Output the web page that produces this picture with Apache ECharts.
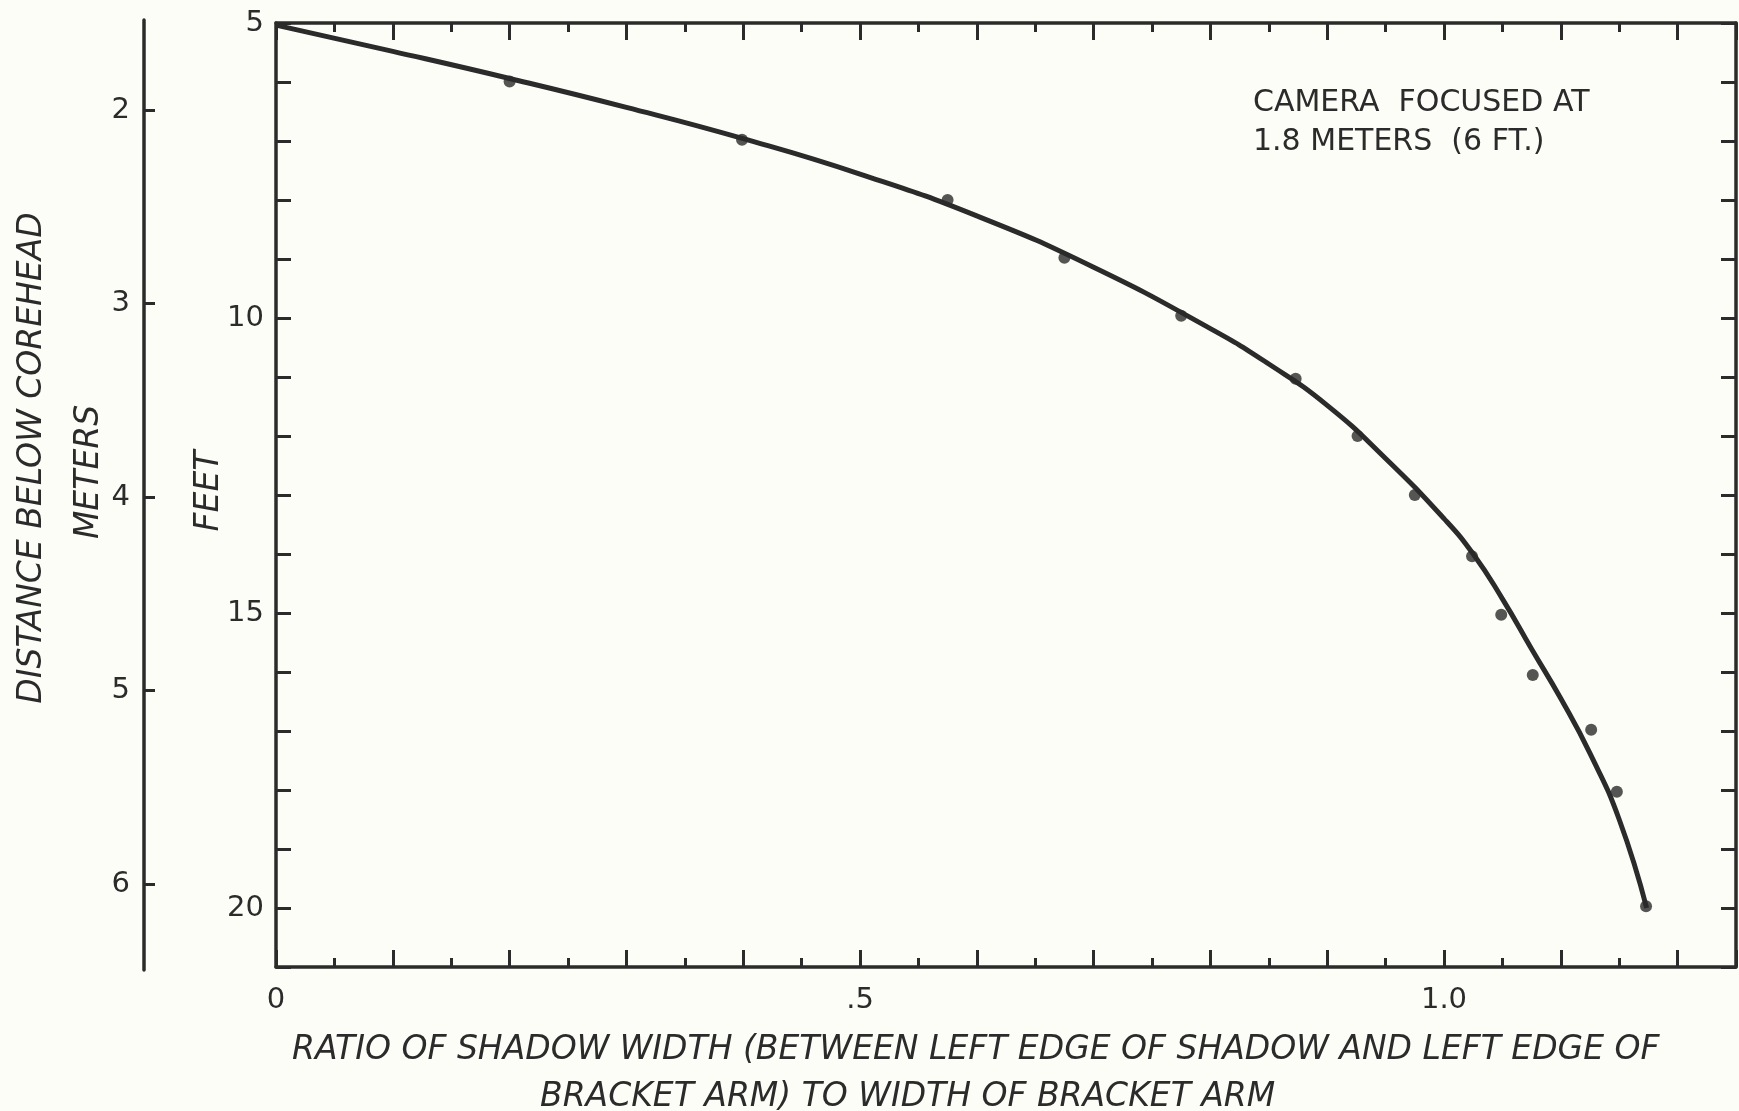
<!DOCTYPE html>
<html>
<head>
<meta charset="utf-8">
<script src="https://cdn.jsdelivr.net/npm/echarts@6.0.0/dist/echarts.min.js"></script>
<style>
  html, body { margin: 0; padding: 0; background: #fdfdf8; }
  #chart { width: 1739px; height: 1111px; }
</style>
</head>
<body>
<div id="chart"></div>
<script>
// ---- data ----
// measured points: ratio of shadow width vs distance below corehead (feet)
const pointRatio = [0.200, 0.399, 0.575, 0.675, 0.775, 0.873, 0.926, 0.975, 1.024, 1.049, 1.076, 1.126, 1.148, 1.173];
const pointFeet  = [5.99, 6.98, 8.00, 8.98, 9.96, 11.03, 12.00, 13.00, 14.04, 15.03, 16.05, 16.98, 18.03, 19.97];

// hand-drawn fitted curve, read along its path
const curveRatio = [0, 0.10, 0.20, 0.30, 0.40, 0.50, 0.60, 0.70, 0.80, 0.85, 0.90, 0.95, 1.00, 1.025, 1.05, 1.075, 1.10, 1.125, 1.15, 1.1735];
const curveFeet  = [5.035, 5.48, 5.94, 6.43, 6.96, 7.56, 8.27, 9.14, 10.18, 10.78, 11.48, 12.38, 13.40, 14.00, 14.76, 15.61, 16.45, 17.38, 18.50, 20.00];

// tick labels
const xTickValues = [0, 0.5, 1.0];
const xTickLabels = ['0', '.5', '1.0'];
const feetTickValues = [5, 10, 15, 20];
const feetTickLabels = ['5', '10', '15', '20'];
const meterTickValues = [2, 3, 4, 5, 6];
const meterTickLabels = ['2', '3', '4', '5', '6'];

// texts
const annotationLines = ['CAMERA  FOCUSED AT', '1.8 METERS  (6 FT.)'];
const xTitleLines = ['RATIO OF SHADOW WIDTH (BETWEEN LEFT EDGE OF SHADOW AND LEFT EDGE OF', 'BRACKET ARM) TO WIDTH OF BRACKET ARM'];
const yTitle = 'DISTANCE BELOW COREHEAD';
const meterTitle = 'METERS';
const feetTitle = 'FEET';

// ---- styling ----
const INK = '#2b2b2b';
const BG = '#fdfdf8';
const FONT = '"DejaVu Sans", sans-serif';

function lookup(values, labels) {
  return function (v) {
    for (let i = 0; i < values.length; i++) {
      if (Math.abs(values[i] - v) < 1e-6) return labels[i];
    }
    return '';
  };
}

const axisLineStyle = { color: INK, width: 3.5 };
const tickLineStyle = { color: INK, width: 3 };

function xAxisDef(position, showLabel) {
  return {
    gridIndex: 0, type: 'value', position: position,
    min: 0, max: 1.25, interval: 0.1,
    axisLine: { show: true, onZero: false, lineStyle: axisLineStyle },
    axisTick: { show: true, inside: true, length: 17, lineStyle: tickLineStyle },
    minorTick: { show: true, splitNumber: 2, length: 9, lineStyle: tickLineStyle },
    splitLine: { show: false },
    minorSplitLine: { show: false },
    axisLabel: {
      show: showLabel, formatter: lookup(xTickValues, xTickLabels),
      margin: 19, fontSize: 29, color: INK, fontFamily: FONT
    }
  };
}

function feetAxisDef(position, showLabel) {
  return {
    gridIndex: 0, type: 'value', position: position, inverse: true,
    min: 5, max: 21, interval: 1,
    axisLine: { show: true, onZero: false, lineStyle: axisLineStyle },
    axisTick: { show: true, inside: true, length: 15, lineStyle: tickLineStyle },
    minorTick: { show: false },
    splitLine: { show: false },
    axisLabel: {
      show: showLabel, formatter: lookup(feetTickValues, feetTickLabels),
      margin: 12, fontSize: 29, color: INK, fontFamily: FONT
    }
  };
}

const option = {
  backgroundColor: BG,
  animation: false,
  textStyle: { fontFamily: FONT, color: INK },
  grid: [
    { left: 276, top: 23, width: 1462, height: 944, containLabel: false },
    { left: 144, top: 20, width: 1, height: 950, containLabel: false }
  ],
  xAxis: [
    xAxisDef('bottom', true),
    xAxisDef('top', false),
    { gridIndex: 1, type: 'value', show: false, min: 0, max: 1 }
  ],
  yAxis: [
    feetAxisDef('left', true),
    feetAxisDef('right', false),
    {
      gridIndex: 1, type: 'value', position: 'left', inverse: true,
      min: 1.535, max: 6.444,
      axisLine: { show: true, onZero: false, lineStyle: axisLineStyle },
      axisTick: { show: true, inside: true, length: 11, customValues: meterTickValues, lineStyle: tickLineStyle },
      splitLine: { show: false },
      axisLabel: {
        show: true, customValues: meterTickValues, formatter: lookup(meterTickValues, meterTickLabels),
        margin: 14, fontSize: 29, color: INK, fontFamily: FONT
      }
    }
  ],
  series: [
    {
      type: 'line', xAxisIndex: 0, yAxisIndex: 0,
      data: curveRatio.map((x, i) => [x, curveFeet[i]]),
      smooth: 0.5, showSymbol: false, symbol: 'none',
      lineStyle: { color: INK, width: 5 },
      z: 3, silent: true
    },
    {
      type: 'scatter', xAxisIndex: 0, yAxisIndex: 0,
      data: pointRatio.map((x, i) => [x, pointFeet[i]]),
      symbol: 'circle', symbolSize: 12,
      itemStyle: { color: INK },
      z: 4, silent: true
    }
  ],
  graphic: [
    { type: 'text', left: 1253, top: 88, style: { text: annotationLines[0], font: '30px ' + FONT, fill: INK } },
    { type: 'text', left: 1253, top: 127, style: { text: annotationLines[1], font: '30px ' + FONT, fill: INK } },
    { type: 'text', left: 292, top: 1034, style: { text: xTitleLines[0], font: 'italic 33px ' + FONT, fill: INK } },
    { type: 'text', left: 540, top: 1081, style: { text: xTitleLines[1], font: 'italic 33px ' + FONT, fill: INK } },
    { type: 'text', x: 32, y: 458, rotation: Math.PI / 2,
      style: { text: yTitle, font: 'italic 33px ' + FONT, fill: INK, align: 'center', verticalAlign: 'middle' } },
    { type: 'text', x: 89, y: 472, rotation: Math.PI / 2,
      style: { text: meterTitle, font: 'italic 33px ' + FONT, fill: INK, align: 'center', verticalAlign: 'middle' } },
    { type: 'text', x: 209, y: 491, rotation: Math.PI / 2,
      style: { text: feetTitle, font: 'italic 33px ' + FONT, fill: INK, align: 'center', verticalAlign: 'middle' } }
  ]
};

const chart = echarts.init(document.getElementById('chart'), null, { renderer: 'canvas' });
chart.setOption(option);
</script>
</body>
</html>
